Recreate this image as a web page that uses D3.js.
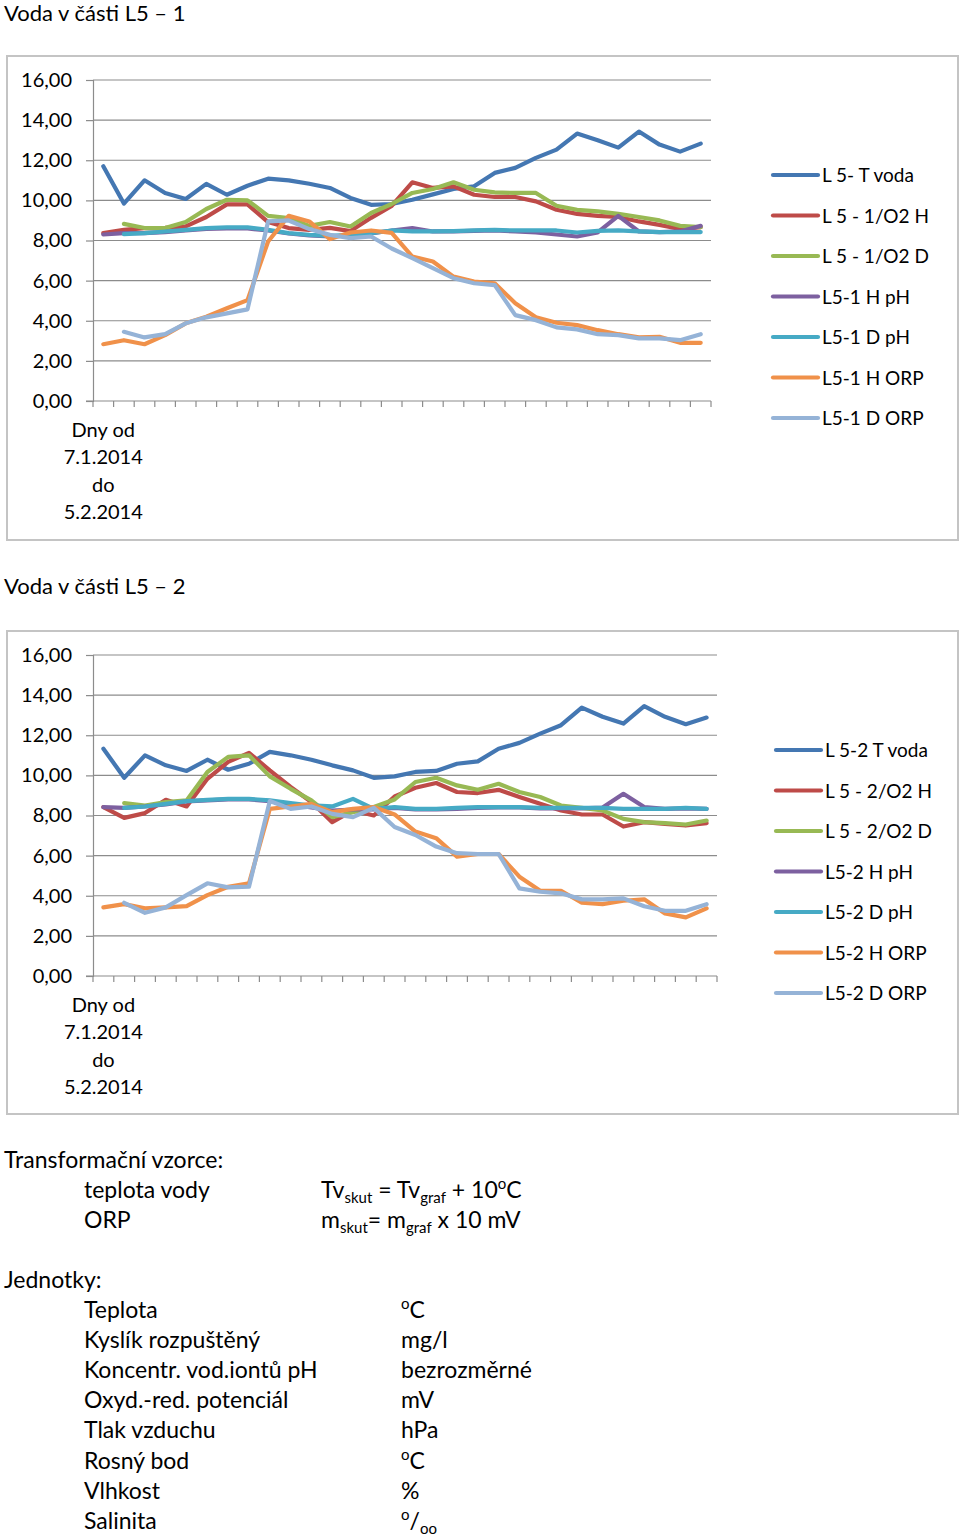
<!DOCTYPE html>
<html><head><meta charset="utf-8">
<script src="https://cdn.jsdelivr.net/npm/d3@7"></script>
<style>
html,body{margin:0;padding:0;background:#fff;}
svg text{font-family:Lato,"Open Sans",sans-serif;fill:#000;}
</style></head>
<body>
<svg id="c" width="960" height="1537"></svg>
<script>
// ---------- data ----------
const categories = d3.range(30).map(i => "d" + (i + 1));
const categoryLabel = ["Dny od", "7.1.2014", "do", "5.2.2014"];
const yTicks = [0, 2, 4, 6, 8, 10, 12, 14, 16];

const names1 = ["L 5- T voda", "L 5 - 1/O2 H", "L 5 - 1/O2 D", "L5-1 H pH", "L5-1 D pH", "L5-1 H ORP", "L5-1 D ORP"];
const tVoda1 = [11.7, 9.84, 11.0, 10.37, 10.07, 10.82, 10.28, 10.73, 11.08, 11.0, 10.83, 10.62, 10.12, 9.78, 9.82, 10.03, 10.3, 10.57, 10.7, 11.37, 11.62, 12.12, 12.53, 13.33, 13.0, 12.63, 13.43, 12.78, 12.43, 12.83];
const o2H1 = [8.37, 8.53, 8.62, 8.63, 8.7, 9.17, 9.8, 9.8, 8.92, 8.62, 8.53, 8.63, 8.47, 9.13, 9.72, 10.9, 10.62, 10.7, 10.28, 10.17, 10.17, 9.95, 9.53, 9.33, 9.23, 9.17, 8.95, 8.78, 8.57, 8.67];
const o2D1 = [null, 8.83, 8.62, 8.62, 8.92, 9.57, 10.03, 10.0, 9.23, 9.12, 8.73, 8.92, 8.7, 9.37, 9.82, 10.37, 10.57, 10.9, 10.53, 10.4, 10.37, 10.37, 9.73, 9.53, 9.45, 9.33, 9.17, 9.0, 8.73, 8.67];
const phH1 = [8.3, 8.37, 8.37, 8.42, 8.5, 8.58, 8.6, 8.6, 8.5, 8.35, 8.25, 8.2, 8.25, 8.35, 8.5, 8.62, 8.45, 8.45, 8.48, 8.5, 8.45, 8.4, 8.3, 8.2, 8.4, 9.23, 8.45, 8.42, 8.45, 8.73];
const phD1 = [null, 8.32, 8.37, 8.45, 8.53, 8.62, 8.65, 8.65, 8.53, 8.37, 8.28, 8.23, 8.28, 8.37, 8.5, 8.45, 8.45, 8.47, 8.5, 8.53, 8.5, 8.5, 8.5, 8.4, 8.48, 8.5, 8.45, 8.42, 8.42, 8.42];
const orpH1 = [2.83, 3.03, 2.83, 3.28, 3.87, 4.2, 4.62, 5.03, 7.95, 9.23, 8.95, 8.07, 8.4, 8.5, 8.38, 7.2, 6.95, 6.2, 5.95, 5.87, 4.87, 4.17, 3.9, 3.78, 3.53, 3.33, 3.17, 3.2, 2.9, 2.9];
const orpD1 = [null, 3.45, 3.17, 3.33, 3.87, 4.17, 4.37, 4.57, 8.95, 9.0, 8.57, 8.28, 8.12, 8.2, 7.6, 7.12, 6.62, 6.12, 5.87, 5.78, 4.28, 4.03, 3.67, 3.57, 3.33, 3.28, 3.12, 3.12, 3.03, 3.33];

const names2 = ["L 5-2 T voda", "L 5 - 2/O2 H", "L 5 - 2/O2 D", "L5-2 H pH", "L5-2 D pH", "L5-2 H ORP", "L5-2 D ORP"];
const tVoda2 = [11.33, 9.88, 11.0, 10.5, 10.22, 10.78, 10.28, 10.58, 11.17, 11.0, 10.78, 10.5, 10.25, 9.88, 9.95, 10.17, 10.22, 10.58, 10.7, 11.33, 11.62, 12.08, 12.5, 13.38, 12.92, 12.58, 13.45, 12.92, 12.55, 12.88];
const o2H2 = [8.42, 7.88, 8.12, 8.78, 8.45, 9.83, 10.67, 11.12, 10.25, 9.42, 8.67, 7.67, 8.25, 8.0, 8.95, 9.38, 9.62, 9.17, 9.12, 9.28, 8.92, 8.58, 8.25, 8.05, 8.05, 7.45, 7.67, 7.58, 7.5, 7.62];
const o2D2 = [null, 8.62, 8.5, 8.67, 8.75, 10.17, 10.92, 11.0, 9.95, 9.33, 8.75, 7.92, 8.17, 8.42, 8.8, 9.67, 9.88, 9.5, 9.28, 9.58, 9.17, 8.92, 8.5, 8.38, 8.25, 7.83, 7.67, 7.62, 7.55, 7.75];
const phH2 = [8.42, 8.38, 8.45, 8.55, 8.7, 8.75, 8.8, 8.8, 8.72, 8.55, 8.4, 8.25, 8.3, 8.3, 8.38, 8.3, 8.3, 8.33, 8.38, 8.4, 8.4, 8.36, 8.36, 8.36, 8.4, 9.08, 8.42, 8.33, 8.36, 8.33];
const phD2 = [null, 8.38, 8.45, 8.58, 8.72, 8.78, 8.83, 8.83, 8.75, 8.62, 8.5, 8.45, 8.83, 8.33, 8.42, 8.33, 8.33, 8.38, 8.42, 8.42, 8.42, 8.38, 8.38, 8.38, 8.38, 8.33, 8.33, 8.33, 8.38, 8.33];
const orpH2 = [3.42, 3.58, 3.37, 3.42, 3.48, 4.03, 4.45, 4.62, 8.33, 8.45, 8.58, 8.17, 8.33, 8.42, 8.05, 7.2, 6.87, 5.95, 6.08, 6.08, 4.95, 4.25, 4.25, 3.65, 3.58, 3.75, 3.82, 3.12, 2.92, 3.37];
const orpD2 = [null, 3.65, 3.15, 3.42, 4.03, 4.62, 4.42, 4.45, 8.72, 8.33, 8.45, 8.08, 7.92, 8.38, 7.43, 7.03, 6.45, 6.12, 6.08, 6.08, 4.37, 4.2, 4.12, 3.82, 3.82, 3.87, 3.48, 3.25, 3.25, 3.58];

const colors = ["#4477b2", "#be4b48", "#98b954", "#7d60a0", "#46aac5", "#f0914a", "#95b3d7"];

const titles = ["Voda v části L5 – 1", "Voda v části L5 – 2"];

const formulaRows = [
  {label: "teplota vody", parts: [["Tv",""],["skut","sub"],[" = Tv",""],["graf","sub"],[" + 10",""],["o","sup"],["C",""]]},
  {label: "ORP", parts: [["m",""],["skut","sub"],["= m",""],["graf","sub"],[" x 10 mV",""]]}
];
const unitNames = ["Teplota", "Kyslík rozpuštěný", "Koncentr. vod.iontů pH", "Oxyd.-red. potenciál", "Tlak vzduchu", "Rosný bod", "Vlhkost", "Salinita"];
const unitValues = [
  [["o","sup"],["C",""]], [["mg/l",""]], [["bezrozměrné",""]], [["mV",""]], [["hPa",""]],
  [["o","sup"],["C",""]], [["%",""]], [["o","sup"],["/",""],["oo","sub"]]
];

// ---------- drawing ----------
const svg = d3.select("#c");
const fmt = v => d3.format(".2f")(v).replace(".", ",");

function drawChart(cfg) {
  const g = svg.append("g");
  g.append("text").attr("x", 4).attr("y", cfg.titleY).style("font-size", "22px").text(cfg.title);
  g.append("rect").attr("x", cfg.frame[0]).attr("y", cfg.frame[1]).attr("width", cfg.frame[2]).attr("height", cfg.frame[3])
    .attr("fill", "none").attr("stroke", "#c4c4c4").attr("stroke-width", 2);

  const x = d3.scaleBand().domain(categories).range([cfg.x0, cfg.x1]).padding(0);
  const y = d3.scaleLinear().domain([0, 16]).range([cfg.yBottom, cfg.yTop]);

  g.append("g").selectAll("line").data(yTicks.filter(t => t > 0)).join("line")
    .attr("x1", cfg.x0).attr("x2", cfg.x1).attr("y1", d => y(d)).attr("y2", d => y(d))
    .attr("stroke", "#8c8c8c").attr("stroke-width", 1.2);

  const ya = g.append("g").attr("transform", `translate(${cfg.x0},0)`)
    .call(d3.axisLeft(y).tickValues(yTicks).tickFormat(fmt).tickSize(7).tickPadding(14));
  ya.select(".domain").attr("stroke", "#8c8c8c").attr("stroke-width", 1.2);
  ya.selectAll(".tick line").attr("stroke", "#8c8c8c").attr("stroke-width", 1.2);
  ya.selectAll(".tick text").style("font-size", "20px").style("font-family", "Lato, sans-serif").attr("fill", "#000");

  const xa = g.append("g").attr("transform", `translate(0,${cfg.yBottom})`);
  xa.append("line").attr("x1", cfg.x0 - 7).attr("x2", cfg.x1).attr("stroke", "#8c8c8c").attr("stroke-width", 1.2);
  const bounds = categories.map(c => x(c)).concat([x(categories[categories.length - 1]) + x.bandwidth()]);
  xa.selectAll("line.tk").data(bounds).join("line").attr("class", "tk")
    .attr("x1", d => d).attr("x2", d => d).attr("y1", 0).attr("y2", 6)
    .attr("stroke", "#8c8c8c").attr("stroke-width", 1.2);
  const cx0 = x(categories[0]) + x.bandwidth() / 2;
  xa.append("text").attr("text-anchor", "middle").style("font-size", "20px")
    .selectAll("tspan").data(categoryLabel).join("tspan")
    .attr("x", cx0).attr("y", (d, i) => 36 + i * 27.4).text(d => d);

  const line = d3.line().defined(d => d.v != null)
    .x(d => x(d.c) + x.bandwidth() / 2).y(d => y(d.v));
  cfg.series.forEach((s, k) => {
    const pts = s.map((v, i) => ({c: categories[i], v}));
    g.append("path").datum(pts).attr("d", line).attr("fill", "none")
      .attr("stroke", colors[k]).attr("stroke-width", 4.2)
      .attr("stroke-linejoin", "round").attr("stroke-linecap", "round");
  });

  const lg = g.append("g");
  cfg.names.forEach((n, k) => {
    const yy = cfg.legY + k * 40.5;
    lg.append("line").attr("x1", cfg.legX).attr("x2", cfg.legX + 45).attr("y1", yy).attr("y2", yy)
      .attr("stroke", colors[k]).attr("stroke-width", 4.2).attr("stroke-linecap", "round");
    lg.append("text").attr("x", cfg.legX + 49).attr("y", yy + 7).style("font-size", "19px").text(n);
  });
}

drawChart({
  title: titles[0], titleY: 21, frame: [7, 56, 951, 484],
  x0: 93, x1: 711, yBottom: 401, yTop: 80,
  series: [tVoda1, o2H1, o2D1, phH1, phD1, orpH1, orpD1], names: names1,
  legX: 773, legY: 175
});
drawChart({
  title: titles[1], titleY: 594, frame: [7, 631, 951, 483],
  x0: 93, x1: 717, yBottom: 976, yTop: 655,
  series: [tVoda2, o2H2, o2D2, phH2, phD2, orpH2, orpD2], names: names2,
  legX: 776, legY: 750
});

function rich(x, y, parts) {
  const t = svg.append("text").attr("x", x).attr("y", y).style("font-size", "23px");
  let prev = "";
  parts.forEach(([s, kind]) => {
    let dy = 0;
    if (prev === "sub") dy -= 5; if (prev === "sup") dy += 9;
    if (kind === "sub") dy += 5; if (kind === "sup") dy -= 9;
    t.append("tspan").attr("dy", dy).style("font-size", kind ? "15px" : "23px").text(s);
    prev = kind;
  });
}

svg.append("text").attr("x", 4).attr("y", 1168).style("font-size", "23px").text("Transformační vzorce:");
formulaRows.forEach((r, i) => {
  const yy = 1198 + i * 30;
  svg.append("text").attr("x", 84).attr("y", yy).style("font-size", "23px").text(r.label);
  rich(321, yy, r.parts);
});
svg.append("text").attr("x", 4).attr("y", 1288).style("font-size", "23px").text("Jednotky:");
unitNames.forEach((n, i) => {
  const yy = 1318 + i * 30.1;
  svg.append("text").attr("x", 84).attr("y", yy).style("font-size", "23px").text(n);
  rich(401, yy, unitValues[i]);
});
</script>
</body></html>
